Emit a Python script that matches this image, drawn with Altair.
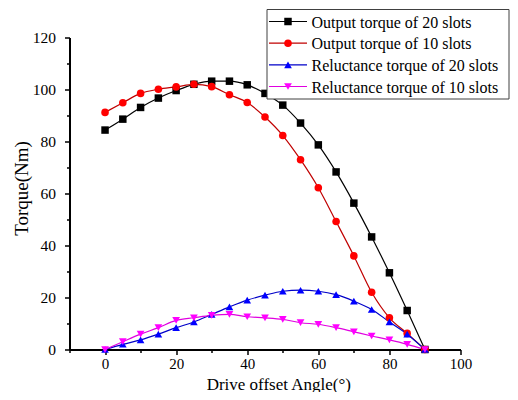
import altair as alt
import pandas as pd

angles = list(range(0, 95, 5))
out20 = [84.4, 88.6, 93.1, 96.7, 99.6, 102.0, 103.2, 103.2, 101.8, 98.5, 94.0,
         87.1, 78.7, 68.3, 56.3, 43.3, 29.5, 15.0, 0.0]
out10 = [91.2, 94.9, 98.5, 100.1, 101.0, 102.0, 101.1, 98.0, 95.0, 89.4, 82.3,
         73.0, 62.2, 49.2, 36.0, 22.0, 12.2, 6.2, 0.0]
rel20 = [0.0, 2.0, 3.7, 5.9, 8.4, 10.6, 13.5, 16.4, 19.0, 20.9, 22.4, 22.8,
         22.4, 21.1, 18.6, 15.4, 10.6, 5.9, 0.0]
rel10 = [0.0, 3.0, 5.9, 8.4, 11.2, 12.2, 13.1, 13.5, 12.6, 12.2, 11.6, 10.3,
         9.7, 8.4, 6.8, 5.2, 3.7, 2.0, 0.0]

series_names = ["Output torque of 20 slots", "Output torque of 10 slots",
                "Reluctance torque of 20 slots", "Reluctance torque of 10 slots"]
marker_colors = ["#000000", "#FF0000", "#0000FF", "#FF00FF"]
line_colors = ["#000000", "#C00000", "#0000C8", "#E000E0"]
marker_shapes = ["square", "circle", "triangle-up", "triangle-down"]
marker_sizes = [56, 60, 80, 80]

x_major = list(range(0, 101, 20))
x_minor = list(range(-10, 100, 20))
y_major = list(range(0, 121, 20))
y_minor = list(range(10, 120, 20))

rows = []
for name, vals in zip(series_names, [out20, out10, rel20, rel10]):
    for a, v in zip(angles, vals):
        rows.append({"angle": a, "torque": v, "series": name})
df = pd.DataFrame(rows)
leg = pd.DataFrame({"series": series_names, "row": list(range(len(series_names)))})

FONT = "Liberation Serif"

stroke_scale = alt.Scale(domain=series_names, range=line_colors)
fill_scale = alt.Scale(domain=series_names, range=marker_colors)
shape_scale = alt.Scale(domain=series_names, range=marker_shapes)
size_scale = alt.Scale(domain=series_names, range=marker_sizes)
x_scale = alt.Scale(domain=[-10, 100], nice=False, zero=False)
y_scale = alt.Scale(domain=[0, 120], nice=False)

x_axis = alt.Axis(values=x_major, orient="bottom", title="Drive offset Angle(°)",
                  tickSize=5, labelPadding=2, labelOverlap=False, labelFlush=False,
                  labelFontSize=15,
                  titleX=208.8, titleY=39.5, titleBaseline="alphabetic",
                  titleAnchor="middle", titleAlign="center", titleFontSize=17)
y_axis = alt.Axis(values=y_major, orient="left", title="Torque(Nm)",
                  tickSize=5, labelPadding=9, labelOverlap=False, labelFlush=False,
                  titleX=-48.5, titleY=150.5, titleBaseline="middle",
                  titleAlign="center", titleAngle=270, titleFontSize=19)
x_minor_axis = alt.Axis(values=x_minor, orient="bottom", title=None, labels=False,
                        domain=False, tickSize=3)
y_minor_axis = alt.Axis(values=y_minor, orient="left", title=None, labels=False,
                        domain=False, tickSize=3)

lines = alt.Chart(df).mark_line(interpolate="monotone", strokeWidth=1.2).encode(
    x=alt.X("angle:Q", scale=x_scale, axis=x_axis),
    y=alt.Y("torque:Q", scale=y_scale, axis=y_axis),
    stroke=alt.Stroke("series:N", scale=stroke_scale, legend=None),
)
points = alt.Chart(df).mark_point(filled=True, opacity=1).encode(
    x=alt.X("angle:Q", axis=None), y=alt.Y("torque:Q", axis=None),
    fill=alt.Fill("series:N", scale=fill_scale, legend=None),
    shape=alt.Shape("series:N", scale=shape_scale, legend=None),
    size=alt.Size("series:N", scale=size_scale, legend=None),
)
minor = alt.Chart(df).mark_point(opacity=0).encode(
    x=alt.X("angle:Q", axis=x_minor_axis), y=alt.Y("torque:Q", axis=y_minor_axis),
)
main = alt.layer(lines, points, minor).resolve_axis(x="independent", y="independent")

row_scale = alt.Scale(domain=[0, 3], range=[-16, 49])
box = alt.Chart(pd.DataFrame({"k": [0]})).mark_rect(
    fill="white", stroke="#404040", strokeWidth=1).encode(
    x=alt.value(197.5), x2=alt.value(439.5), y=alt.value(-28), y2=alt.value(61.5))
leg_lines = alt.Chart(leg).mark_rule(strokeWidth=1.2).encode(
    x=alt.value(199.5), x2=alt.value(237.5),
    y=alt.Y("row:Q", scale=row_scale, axis=None),
    stroke=alt.Stroke("series:N", scale=stroke_scale, legend=None))
leg_marks = alt.Chart(leg).mark_point(filled=True, opacity=1).encode(
    x=alt.value(218.5),
    y=alt.Y("row:Q", scale=row_scale, axis=None),
    fill=alt.Fill("series:N", scale=fill_scale, legend=None),
    shape=alt.Shape("series:N", scale=shape_scale, legend=None),
    size=alt.Size("series:N", scale=size_scale, legend=None))
leg_text = alt.Chart(leg).mark_text(align="left", baseline="middle", font=FONT,
                                    fontSize=16, color="#000000", dy=1).encode(
    x=alt.value(242),
    y=alt.Y("row:Q", scale=row_scale, axis=None),
    text="series:N")
legend = alt.layer(box, leg_lines, leg_marks, leg_text)

chart = alt.layer(main, legend).resolve_scale(y="independent").properties(
    width=391, height=312,
    autosize=alt.AutoSizeParams(type="none"),
    padding={"left": 61.5, "top": 29.5, "right": 49.5, "bottom": 42.5},
    background="white",
).configure_view(stroke=None).configure_axis(
    domainColor="#000000", domainWidth=2, tickColor="#000000", tickWidth=1.5,
    labelFont=FONT, labelFontSize=15.5, labelColor="#000000",
    titleFont=FONT, titleFontWeight="normal", titleColor="#000000",
    grid=False,
)

chart.save("out.html", embed_options={"renderer": "svg", "actions": False})
